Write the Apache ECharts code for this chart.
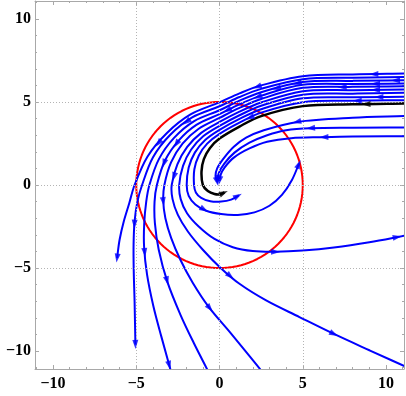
<!DOCTYPE html>
<html>
<head>
<meta charset="utf-8">
<script src="https://cdn.jsdelivr.net/npm/echarts@6/dist/echarts.min.js"></script>
<style>
  html, body { margin: 0; padding: 0; background: #fff; }
  #main { width: 406px; height: 396px; }
</style>
</head>
<body>
<div id="main"></div>
<script>
// axis ticks and grid
var majorTicks = [-10, -5, 0, 5, 10];
var minorTicks = [-11, -10, -9, -8, -7, -6, -5, -4, -3, -2, -1, 0, 1, 2, 3, 4, 5, 6, 7, 8, 9, 10, 11];
var gridValues = [-5, 0, 5];
var circleRadius = 5;

// streamlines (x, y), outer -> inner
var curve0 = [[11.1, 6.71], [8, 6.66], [5, 6.55], [2.5, 6.0], [1.2, 5.52], [0, 4.98], [-1.74, 4.25], [-3.17, 3.12], [-4.32, 1.72], [-5.1, 0], [-5.42, -1.1], [-5.75, -2.2], [-6.0, -3.3], [-6.15, -4.4]];
var curve1 = [[11.1, 6.51], [8, 6.46], [5, 6.37], [2.5, 5.79], [1.2, 5.3], [0, 4.74], [-1.64, 4.07], [-2.97, 3.01], [-4.0, 1.66], [-4.65, 0], [-4.93, -1.0], [-5.1, -2.2], [-5.16, -3.6], [-5.15, -5.2], [-5.1, -7.0], [-5.05, -9.6]];
var curve2 = [[11.1, 6.31], [8, 6.27], [5, 6.2], [2.5, 5.59], [1.2, 5.08], [0, 4.5], [-1.52, 3.85], [-2.73, 2.84], [-3.64, 1.56], [-4.21, 0], [-4.4, -1.0], [-4.52, -2.3], [-4.53, -3.7], [-4.35, -5.4], [-3.97, -7.3], [-3.5, -9.1], [-2.95, -11.1]];
var curve3 = [[11.1, 6.11], [8, 6.08], [5, 6.03], [2.5, 5.38], [1.2, 4.86], [0, 4.27], [-1.39, 3.62], [-2.47, 2.66], [-3.28, 1.46], [-3.76, 0], [-3.9, -1.0], [-3.88, -2.3], [-3.65, -3.9], [-3.14, -5.8], [-2.35, -7.8], [-1.55, -9.5], [-0.74, -11.1]];
var curve4 = [[11.1, 5.95], [8, 5.91], [5, 5.85], [2.5, 5.18], [1.2, 4.64], [0, 4.04], [-1.25, 3.39], [-2.22, 2.49], [-2.91, 1.36], [-3.31, 0], [-3.38, -0.95], [-3.25, -2.0], [-2.9, -3.2], [-2.35, -4.5], [-1.6, -5.9], [-0.64, -7.35], [0.66, -8.9], [2.45, -11.1]];
var curve5 = [[11.1, 5.75], [8, 5.71], [5, 5.65], [2.5, 4.97], [1.2, 4.42], [0, 3.8], [-1.1, 3.14], [-1.94, 2.29], [-2.53, 1.24], [-2.87, 0], [-2.82, -0.85], [-2.5, -1.8], [-1.9, -2.8], [-1.0, -3.9], [0.02, -4.95], [1.2, -5.95], [2.8, -6.95], [4.8, -7.95], [6.87, -8.97], [9, -9.95], [11.1, -10.9]];
var curve6 = [[11.1, 5.55], [8, 5.5], [5, 5.44], [2.5, 4.77], [1.2, 4.2], [0, 3.56], [-0.98, 2.93], [-1.71, 2.12], [-2.19, 1.15], [-2.42, 0], [-2.33, -0.85], [-1.95, -1.7], [-1.25, -2.5], [-0.3, -3.25], [0.8, -3.75], [2.0, -3.98], [3.37, -4.02], [5, -3.95], [6.87, -3.77], [9, -3.45], [11.1, -3.05]];
var curve7 = [[11.1, 5.31], [8, 5.28], [5, 5.22], [2.5, 4.56], [1.2, 3.98], [0, 3.32], [-0.86, 2.71], [-1.48, 1.95], [-1.85, 1.05], [-1.97, 0], [-1.85, -0.65], [-1.45, -1.17], [-0.8, -1.55], [0.1, -1.75], [1.1, -1.8], [2.1, -1.65], [3.0, -1.25], [3.75, -0.6], [4.35, 0.3], [4.78, 1.3]];
var curve8 = [[11.1, 5.11], [8, 5.07], [5, 4.99], [2.5, 4.36], [1.2, 3.76], [0, 3.08], [-0.74, 2.49], [-1.24, 1.78], [-1.51, 0.95], [-1.53, 0], [-1.42, -0.45], [-1.1, -0.78], [-0.55, -0.98], [0.1, -1.0], [0.7, -0.88], [1.16, -0.62]];
var lower1 = [[11.1, 4.15], [8, 4.05], [4.67, 3.8], [2.66, 3.3], [1.6, 2.85], [0.86, 2.3], [0.25, 1.6], [-0.14, 1.0], [-0.24, 0.55], [-0.15, 0.2]];
var lower2 = [[11.1, 3.47], [8, 3.45], [5.47, 3.42], [4, 3.3], [2.86, 3.0], [1.8, 2.55], [0.9, 1.95], [0.3, 1.3], [-0.05, 0.7], [-0.1, 0.3]];
var lower3 = [[11.1, 2.94], [8, 2.92], [6.17, 2.88], [4.3, 2.82], [2.86, 2.6], [1.8, 2.2], [0.86, 1.65], [0.3, 1.05], [0.06, 0.6], [0.0, 0.25]];
var blackCurve = [[11.1, 4.91], [8, 4.86], [5, 4.75], [2.5, 4.15], [1.2, 3.52], [0, 2.8], [-0.58, 2.22], [-0.94, 1.56], [-1.08, 0.82], [-1.0, 0.0], [-0.7, -0.36], [-0.3, -0.54], [0.05, -0.56], [0.3, -0.45]];

var blueCurves = [curve0, curve1, curve2, curve3, curve4, curve5, curve6, curve7, curve8, lower1, lower2, lower3];

// arrow heads seen on the lines
var arrowPoints = [
  [9.27, 6.67], [10.57, 6.35], [9.37, 6.07], [9.37, 5.71], [7.37, 5.81], [9.57, 5.41], [8.27, 5.15], [8.8, 4.86],
  [4.67, 6.13], [3.43, 5.77], [2.27, 5.87], [2.27, 5.37], [0.46, 4.5], [1.86, 3.97],
  [4.63, 3.82], [5.47, 3.4], [6.27, 2.86],
  [-1.94, 3.75], [-2.64, 2.5], [-3.6, 2.45], [-3.34, 1.3], [-2.74, 0.5],
  [-5.15, -2.36], [-4.53, -4.07], [-3.14, -5.77], [-3.44, -1.0], [-0.6, -7.45], [0.58, -5.57], [6.87, -8.97], [3.37, -4.02], [10.68, -3.17], [-0.9, -1.45],
  [-6.15, -4.4], [-5.05, -9.6], [-2.98, -10.85], [4.76, 1.25], [1.1, -0.65], [0.25, -0.47], [-0.15, 0.22], [-0.1, 0.32], [0.0, 0.27]
];

var allCurves = blueCurves.concat([blackCurve]);

// snap an arrow onto the closest line segment and take its heading
function snapArrow(p) {
  var best = null;
  for (var c = 0; c < allCurves.length; c++) {
    var pts = allCurves[c];
    for (var i = 0; i < pts.length - 1; i++) {
      var ax = pts[i][0], ay = pts[i][1], bx = pts[i + 1][0], by = pts[i + 1][1];
      var dx = bx - ax, dy = by - ay;
      var t = ((p[0] - ax) * dx + (p[1] - ay) * dy) / (dx * dx + dy * dy);
      t = Math.max(0, Math.min(1, t));
      var qx = ax + t * dx, qy = ay + t * dy;
      var d = (qx - p[0]) * (qx - p[0]) + (qy - p[1]) * (qy - p[1]);
      if (!best || d < best.d) {
        best = { d: d, x: qx, y: qy, ang: Math.atan2(dy, dx) * 180 / Math.PI, black: c === allCurves.length - 1 };
      }
    }
  }
  return best;
}

var blueArrows = [], blackArrows = [];
arrowPoints.forEach(function (p) {
  var s = snapArrow(p);
  var item = { value: [s.x, s.y], symbolRotate: s.ang - 90 };
  (s.black ? blackArrows : blueArrows).push(item);
});

var circleData = [];
for (var a = 0; a <= 360; a += 3) {
  circleData.push([circleRadius * Math.cos(a * Math.PI / 180), circleRadius * Math.sin(a * Math.PI / 180)]);
}

// smooth svg path through the pixel points (tangents scaled by segment length)
function smoothPath(px) {
  var n = px.length;
  var tang = [];
  for (var i = 0; i < n; i++) {
    var p0 = px[Math.max(0, i - 1)], p1 = px[Math.min(n - 1, i + 1)];
    var d0 = Math.hypot(px[i][0] - p0[0], px[i][1] - p0[1]);
    var d1 = Math.hypot(p1[0] - px[i][0], p1[1] - px[i][1]);
    var s = d0 + d1 || 1;
    tang.push([(p1[0] - p0[0]) / s, (p1[1] - p0[1]) / s]);
  }
  var d = 'M' + px[0][0] + ' ' + px[0][1];
  for (var j = 0; j < n - 1; j++) {
    var L = Math.hypot(px[j + 1][0] - px[j][0], px[j + 1][1] - px[j][1]) / 3;
    d += ' C' + (px[j][0] + tang[j][0] * L) + ' ' + (px[j][1] + tang[j][1] * L) + ' ' +
      (px[j + 1][0] - tang[j + 1][0] * L) + ' ' + (px[j + 1][1] - tang[j + 1][1] * L) + ' ' +
      px[j + 1][0] + ' ' + px[j + 1][1];
  }
  return d;
}

function curveSeries(pts, color, width, z) {
  return {
    type: 'custom',
    data: pts,
    clip: true,
    silent: true,
    z: z,
    renderItem: function (params, api) {
      if (params.dataIndex !== 0) return null;
      var px = pts.map(function (p) { return api.coord(p); });
      return {
        type: 'path',
        shape: { pathData: smoothPath(px) },
        style: { fill: 'none', stroke: color, lineWidth: width }
      };
    }
  };
}

var chartDom = document.getElementById('main');
var myChart = echarts.init(chartDom);

var frameColor = '#a8a8a8';
var labelStyle = {
  color: '#000',
  fontFamily: 'Liberation Serif',
  fontWeight: 'bold',
  fontSize: 16
};
function fmt(v) {
  return v < 0 ? '\u2212' + Math.abs(v) : String(v);
}
function makeAxis(pos, major, withLabel) {
  return {
    type: 'value',
    min: -11.08,
    max: 11.08,
    position: pos,
    axisLine: { show: major, onZero: false, lineStyle: { color: frameColor, width: 1 } },
    axisTick: { show: true, inside: true, length: major ? 4 : 2, customValues: major ? majorTicks : minorTicks, lineStyle: { color: frameColor } },
    axisLabel: Object.assign({ show: withLabel, customValues: majorTicks, formatter: fmt, margin: (pos === 'left' ? 4 : 7) }, labelStyle),
    splitLine: { show: false }
  };
}

var arrowSymbol = 'path://M0,0L5,13L-5,13Z';
var series = [];

series.push({
  type: 'line',
  data: circleData,
  showSymbol: false,
  lineStyle: { color: '#ff0000', width: 2 },
  z: 2,
  silent: true,
  markLine: {
    silent: true,
    symbol: ['none', 'none'],
    label: { show: false },
    lineStyle: { color: '#b4b4b4', type: [1, 2], width: 1 },
    data: gridValues.map(function (v) { return { xAxis: v }; })
      .concat(gridValues.map(function (v) { return { yAxis: v }; }))
  }
});

blueCurves.forEach(function (c) {
  series.push(curveSeries(c, '#0000ff', 2, 3));
});
series.push(curveSeries(blackCurve, '#000000', 2.5, 4));

series.push({
  type: 'scatter',
  data: blueArrows,
  symbol: arrowSymbol,
  symbolSize: [6, 9],
  itemStyle: { color: '#0000ff' },
  z: 5,
  silent: true
});
series.push({
  type: 'scatter',
  data: blackArrows,
  symbol: arrowSymbol,
  symbolSize: [6, 9],
  itemStyle: { color: '#000000' },
  z: 6,
  silent: true
});

var option = {
  animation: false,
  backgroundColor: '#ffffff',
  grid: { left: 35, top: 1, right: 2, bottom: 27, containLabel: false },
  xAxis: [
    makeAxis('bottom', true, true),
    makeAxis('bottom', false, false),
    makeAxis('top', true, false),
    makeAxis('top', false, false)
  ],
  yAxis: [
    makeAxis('left', true, true),
    makeAxis('left', false, false),
    makeAxis('right', true, false),
    makeAxis('right', false, false)
  ],
  series: series
};

option && myChart.setOption(option);
</script>
</body>
</html>
